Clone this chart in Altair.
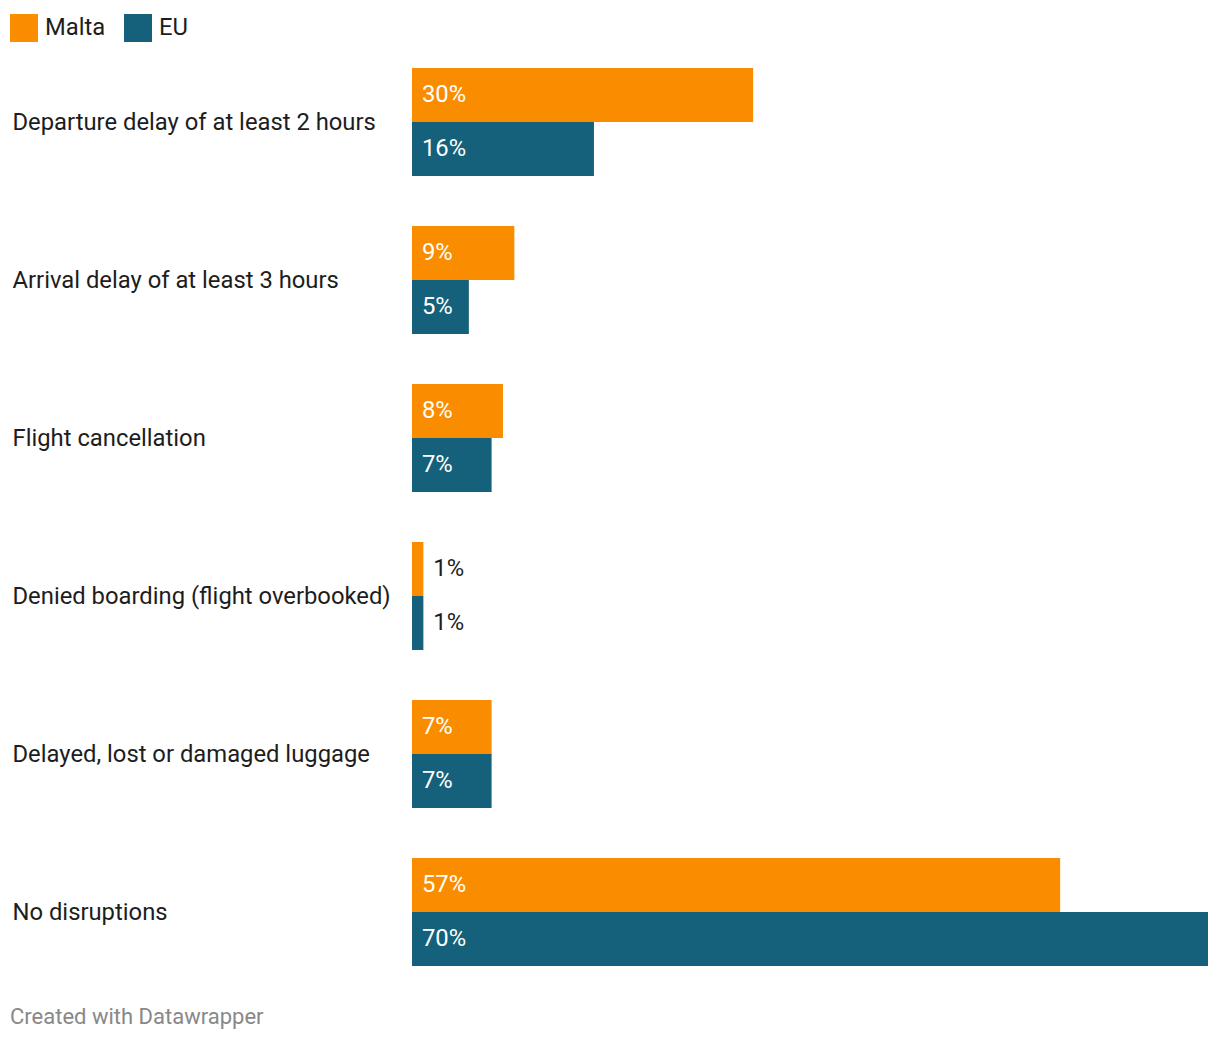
import altair as alt
import pandas as pd

categories = [
    "Departure delay of at least 2 hours",
    "Arrival delay of at least 3 hours",
    "Flight cancellation",
    "Denied boarding (flight overbooked)",
    "Delayed, lost or damaged luggage",
    "No disruptions",
]
series = ["Malta", "EU"]
malta = [30, 9, 8, 1, 7, 57]
eu = [16, 5, 7, 1, 7, 70]
colors = ["#fa8c00", "#15607a"]
footer = "Created with Datawrapper"

rows = []
for c, m, e in zip(categories, malta, eu):
    for s, v in (("Malta", m), ("EU", e)):
        inside = v >= 3
        rows.append({"category": c, "series": s, "value": v, "label": f"{v}%",
                     "inside": inside, "label_x": 0 if inside else v})
df = pd.DataFrame(rows)

FONT = "Roboto"
FS = 23.8
W, H = 796, 898

y = alt.Y("category:N", sort=categories, title=None,
          scale=alt.Scale(paddingInner=50 / 158, paddingOuter=0),
          axis=alt.Axis(domain=False, ticks=False, labelAlign="left", labelBaseline="middle",
                        labelPadding=400, labelLimit=400, labelFontSize=FS, labelFont=FONT,
                        labelColor="#1d1d1d", labelOffset=1))
yoff = alt.YOffset("series:N", sort=series, scale=alt.Scale(paddingInner=0, paddingOuter=0))
x_scale = alt.Scale(domain=[0, 70], nice=False, zero=True)

base = alt.Chart(df)
bars = base.mark_bar().encode(
    y=y, yOffset=yoff,
    x=alt.X("value:Q", scale=x_scale, axis=None),
    color=alt.Color("series:N", sort=series,
                    scale=alt.Scale(domain=series, range=colors),
                    legend=alt.Legend(title=None, orient="none", legendX=-402, legendY=-54,
                                      direction="horizontal", symbolType="square",
                                      symbolSize=784, symbolStrokeWidth=0, symbolOpacity=1,
                                      labelFontSize=FS, labelFont=FONT, labelColor="#1d1d1d",
                                      labelOffset=7, columnPadding=18, padding=0)),
)
labels = base.mark_text(align="left", baseline="middle", dx=10, fontSize=FS, font=FONT).encode(
    y=y, yOffset=yoff,
    x=alt.X("label_x:Q", scale=x_scale, axis=None),
    text="label:N",
    color=alt.condition("datum.inside", alt.value("white"), alt.value("#1d1d1d")),
)

chart = alt.layer(bars, labels).properties(
    width=W, height=H,
    autosize=alt.AutoSizeParams(type="none"),
    padding={"left": 404, "top": 60, "right": 4, "bottom": 70},
    title=alt.TitleParams(footer, orient="bottom", anchor="start", frame="group",
                          fontSize=22, font=FONT, fontWeight="normal", color="#888888",
                          dx=-402, offset=41),
).configure_view(stroke=None)

chart.save("out.html", embed_options={"renderer": "svg", "actions": False})
